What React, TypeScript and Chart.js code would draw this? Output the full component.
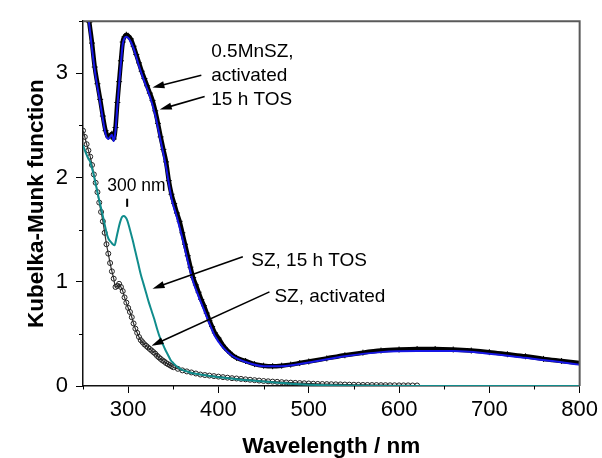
import { useEffect, useRef } from 'react';
import { Chart, registerables } from 'chart.js';

Chart.register(...registerables);

// ---------- data ----------
const mnszActWl = [250, 254, 257, 260, 263, 266, 269, 272, 275, 278, 280, 282, 284, 286, 288, 290, 292, 294, 296, 298, 300, 303, 306, 309, 312, 315, 318, 321, 324, 327, 330, 333, 336, 339, 342, 345, 348, 351, 354, 357, 360, 363, 366, 369, 372, 375, 378, 381, 384, 387, 390, 393, 396, 400, 405, 410, 415, 420, 430, 440, 450, 460, 470, 480, 490, 500, 520, 540, 560, 580, 600, 620, 640, 660, 680, 700, 720, 740, 760, 780, 800];
const mnszActKM = [4.05, 3.72, 3.49, 3.29, 3.06, 2.9, 2.75, 2.59, 2.45, 2.39, 2.4, 2.42, 2.37, 2.48, 2.72, 2.92, 3.12, 3.3, 3.35, 3.37, 3.36, 3.33, 3.26, 3.18, 3.1, 3.02, 2.95, 2.88, 2.81, 2.74, 2.64, 2.52, 2.39, 2.27, 2.15, 1.97, 1.84, 1.75, 1.66, 1.58, 1.47, 1.36, 1.25, 1.14, 1.04, 0.97, 0.9, 0.83, 0.77, 0.7, 0.63, 0.57, 0.51, 0.46, 0.39, 0.34, 0.3, 0.27, 0.24, 0.21, 0.195, 0.19, 0.195, 0.205, 0.22, 0.235, 0.265, 0.295, 0.32, 0.34, 0.35, 0.355, 0.355, 0.35, 0.34, 0.325, 0.305, 0.285, 0.26, 0.24, 0.22];

const mnszTosWl = [250, 257, 263, 269, 275, 278, 280, 282, 284, 286, 288, 290, 292, 294, 296, 298, 301, 306, 312, 318, 324, 330, 336, 342, 348, 354, 360, 366, 372, 378, 384, 390, 396, 405, 415, 430, 450, 470, 500, 540, 580, 620, 660, 700, 740, 770, 800];
const mnszTosKM = [4.0, 3.46, 3.03, 2.72, 2.42, 2.37, 2.39, 2.41, 2.35, 2.45, 2.68, 2.9, 3.1, 3.28, 3.34, 3.35, 3.33, 3.24, 3.07, 2.92, 2.78, 2.6, 2.35, 2.1, 1.8, 1.62, 1.42, 1.2, 1.0, 0.86, 0.73, 0.6, 0.48, 0.37, 0.29, 0.23, 0.19, 0.19, 0.225, 0.285, 0.325, 0.335, 0.335, 0.31, 0.27, 0.24, 0.205];

const szTosWl = [250, 253, 256, 258, 260, 262, 265, 268, 271, 274, 277, 279, 281, 283, 285, 287, 289, 291, 293, 295, 297, 299, 302, 305, 308, 311, 314, 317, 320, 323, 326, 329, 332, 335, 338, 341, 344, 347, 350, 355, 360, 365, 370, 380, 390, 400, 420, 440, 460, 480, 500, 520, 540, 560, 600, 700, 800];
const szTosKM = [2.31, 2.24, 2.18, 2.15, 2.09, 2.02, 1.9, 1.78, 1.67, 1.55, 1.44, 1.4, 1.38, 1.36, 1.35, 1.42, 1.5, 1.57, 1.62, 1.63, 1.62, 1.59, 1.5, 1.4, 1.29, 1.18, 1.07, 0.98, 0.89, 0.8, 0.72, 0.64, 0.55, 0.47, 0.41, 0.35, 0.3, 0.25, 0.22, 0.18, 0.155, 0.14, 0.125, 0.11, 0.095, 0.085, 0.065, 0.05, 0.035, 0.022, 0.013, 0.007, 0.004, 0.002, 0.001, 0, 0];

const szActWl = [250, 252, 254, 256, 258, 260, 262, 264, 266, 268, 270, 272, 274, 276, 278, 280, 282, 284, 286, 288, 290, 292, 294, 296, 298, 300, 302, 304, 306, 308, 310, 312, 314, 316, 318, 320, 322, 324, 326, 328, 330, 332, 334, 336, 338, 340, 342, 344, 346, 348, 350, 355, 360, 365, 370, 375, 380, 385, 390, 395, 400, 405, 410, 415, 420, 425, 430, 435, 440, 445, 450, 455, 460, 465, 470, 475, 480, 485, 490, 495, 500, 505, 510, 515, 520, 525, 530, 535, 540, 545, 550, 555, 560, 565, 570, 575, 580, 585, 590, 595, 600, 605, 610, 615, 620];
const szActKM = [2.45, 2.39, 2.32, 2.26, 2.2, 2.12, 2.03, 1.95, 1.86, 1.76, 1.67, 1.58, 1.47, 1.36, 1.27, 1.18, 1.1, 1.03, 0.95, 0.96, 0.98, 0.95, 0.91, 0.85, 0.8, 0.75, 0.71, 0.66, 0.6, 0.55, 0.51, 0.47, 0.44, 0.42, 0.4, 0.385, 0.37, 0.355, 0.34, 0.325, 0.31, 0.29, 0.275, 0.26, 0.245, 0.235, 0.22, 0.21, 0.2, 0.19, 0.18, 0.165, 0.15, 0.14, 0.13, 0.12, 0.11, 0.105, 0.1, 0.095, 0.09, 0.085, 0.08, 0.075, 0.072, 0.068, 0.064, 0.06, 0.056, 0.052, 0.048, 0.045, 0.042, 0.04, 0.037, 0.034, 0.032, 0.03, 0.028, 0.026, 0.024, 0.022, 0.02, 0.019, 0.018, 0.017, 0.016, 0.015, 0.014, 0.013, 0.012, 0.011, 0.01, 0.01, 0.009, 0.009, 0.008, 0.008, 0.007, 0.007, 0.006, 0.006, 0.006, 0.005, 0.005];

const xMajorTicks = [300, 400, 500, 600, 700, 800];
const xMinorTicks = [250, 350, 450, 550, 650, 750];
const yMajorTicks = [0, 1, 2, 3];
const yMinorTicks = [0.5, 1.5, 2.5, 3.5];

const xTitle = 'Wavelength / nm';
const yTitle = 'Kubelka-Munk function';

// annotation anchors in data units (nm, KM)
const mnszLabel = { lines: ['0.5MnSZ,', 'activated', '15 h TOS'], x: 392, y: 3.16 };
const mnszArrows = [
  { from: [381, 2.982], to: [326.9, 2.863] },
  { from: [384.7, 2.778], to: [335, 2.653] },
];
const peakLabel = { text: '300 nm', x: 276.8, y: 1.875, markX: 298.9, markY1: 1.797, markY2: 1.719 };
const szTosLabel = { text: 'SZ, 15 h TOS', x: 436.3, y: 1.154, from: [427, 1.239], to: [327, 0.934] };
const szActLabel = { text: 'SZ, activated', x: 462, y: 0.809, from: [456.5, 0.903], to: [325.9, 0.386] };

const FONT = '"Liberation Sans", Arial, Helvetica, sans-serif';

const toXY = (xs: number[], ys: number[]) => xs.map((x, i) => ({ x, y: ys[i] }));

function drawArrow(ctx: CanvasRenderingContext2D, x1: number, y1: number, x2: number, y2: number) {
  const ang = Math.atan2(y2 - y1, x2 - x1);
  const L = 12;
  const W = 3.6;
  const c = Math.cos(ang);
  const s = Math.sin(ang);
  ctx.beginPath();
  ctx.moveTo(x1, y1);
  ctx.lineTo(x2 - L * 0.7 * c, y2 - L * 0.7 * s);
  ctx.stroke();
  ctx.beginPath();
  ctx.moveTo(x2, y2);
  ctx.lineTo(x2 - L * c + W * s, y2 - L * s - W * c);
  ctx.lineTo(x2 - L * c - W * s, y2 - L * s + W * c);
  ctx.closePath();
  ctx.fill();
}

const decorPlugin = {
  id: 'decor',
  afterDraw(chart: any) {
    const { ctx, chartArea: a } = chart;
    const xs = chart.scales.x;
    const ys = chart.scales.y;
    const px = (v: number) => xs.getPixelForValue(v);
    const py = (v: number) => ys.getPixelForValue(v);
    ctx.save();
    // top / right frame
    ctx.strokeStyle = '#5a5a5a';
    ctx.lineWidth = 2;
    ctx.beginPath();
    ctx.moveTo(a.left, a.top);
    ctx.lineTo(a.right, a.top);
    ctx.lineTo(a.right, a.bottom);
    ctx.stroke();
    // minor ticks
    ctx.strokeStyle = '#000';
    ctx.lineWidth = 1;
    ctx.beginPath();
    xMinorTicks.forEach((v) => {
      const x = Math.round(px(v)) + 0.5;
      ctx.moveTo(x, a.bottom);
      ctx.lineTo(x, a.bottom + 3.5);
    });
    yMinorTicks.forEach((v) => {
      const y = Math.round(py(v)) + 0.5;
      ctx.moveTo(a.left, y);
      ctx.lineTo(a.left - 4, y);
    });
    ctx.stroke();

    // annotations
    ctx.fillStyle = '#000';
    ctx.strokeStyle = '#000';
    ctx.textBaseline = 'alphabetic';
    ctx.textAlign = 'left';
    ctx.font = `19px ${FONT}`;
    mnszLabel.lines.forEach((t, i) => {
      ctx.fillText(t, px(mnszLabel.x), py(mnszLabel.y) + i * 24);
    });
    ctx.fillText(szTosLabel.text, px(szTosLabel.x), py(szTosLabel.y));
    ctx.fillText(szActLabel.text, px(szActLabel.x), py(szActLabel.y));
    ctx.font = `17.5px ${FONT}`;
    ctx.fillText(peakLabel.text, px(peakLabel.x), py(peakLabel.y));
    ctx.lineWidth = 2;
    ctx.beginPath();
    ctx.moveTo(px(peakLabel.markX), py(peakLabel.markY1));
    ctx.lineTo(px(peakLabel.markX), py(peakLabel.markY2));
    ctx.stroke();

    ctx.lineWidth = 1.6;
    const arrows = [...mnszArrows, { from: szTosLabel.from, to: szTosLabel.to }, { from: szActLabel.from, to: szActLabel.to }];
    arrows.forEach((ar) => {
      drawArrow(ctx, px(ar.from[0]), py(ar.from[1]), px(ar.to[0]), py(ar.to[1]));
    });
    ctx.restore();
  },
};

export default function App() {
  const ref = useRef<HTMLCanvasElement>(null);
  useEffect(() => {
    if (!ref.current) return;
    Chart.defaults.font.family = FONT;
    Chart.defaults.color = '#000';
    const chart = new Chart(ref.current, {
      type: 'line',
      data: {
        datasets: [
          {
            label: '0.5MnSZ, 15 h TOS',
            data: toXY(mnszTosWl, mnszTosKM),
            borderColor: '#1717e6',
            borderWidth: 2,
            pointRadius: 0,
            cubicInterpolationMode: 'monotone',
          },
          {
            label: '0.5MnSZ, activated',
            data: toXY(mnszActWl, mnszActKM),
            borderColor: '#000',
            borderWidth: 4.5,
            pointStyle: 'cross',
            pointRadius: 3,
            pointBorderWidth: 1,
            pointBorderColor: '#000',
            cubicInterpolationMode: 'monotone',
          },
          {
            label: 'SZ, 15 h TOS',
            data: toXY(szTosWl, szTosKM),
            borderColor: '#108c8c',
            borderWidth: 2,
            pointRadius: 0,
            cubicInterpolationMode: 'monotone',
          },
          {
            label: 'SZ, activated',
            data: toXY(szActWl, szActKM),
            borderColor: '#333',
            borderWidth: 1.2,
            pointStyle: 'circle',
            pointRadius: 2.5,
            pointBorderWidth: 1,
            pointBorderColor: '#222',
            pointBackgroundColor: 'rgba(255,255,255,0)',
            cubicInterpolationMode: 'monotone',
          },
        ],
      },
      options: {
        animation: false,
        responsive: false,
        events: [],
        layout: { padding: { top: 14, right: 21, left: 0, bottom: 0 } },
        plugins: { legend: { display: false }, tooltip: { enabled: false } },
        scales: {
          x: {
            type: 'linear',
            min: 250,
            max: 800,
            afterBuildTicks: (s: any) => {
              s.ticks = xMajorTicks.map((v) => ({ value: v }));
            },
            afterFit: (s: any) => {
              s.height = 72;
            },
            border: { display: true, color: '#111', width: 1.5 },
            grid: { drawOnChartArea: false, drawTicks: true, tickLength: 7, color: '#000', lineWidth: 1 },
            ticks: { font: { size: 22 }, padding: 4, maxRotation: 0, color: '#000' },
            title: { display: true, text: xTitle, font: { size: 22.5, weight: 'bold', lineHeight: 1 }, padding: { top: 0, bottom: 0 }, color: '#000' },
          },
          y: {
            type: 'linear',
            min: 0,
            max: 3.5,
            afterBuildTicks: (s: any) => {
              s.ticks = yMajorTicks.map((v) => ({ value: v }));
            },
            afterFit: (s: any) => {
              s.width = 83;
            },
            border: { display: true, color: '#111', width: 1.5 },
            grid: { drawOnChartArea: false, drawTicks: true, tickLength: 7, color: '#000', lineWidth: 1 },
            ticks: { font: { size: 22 }, padding: 8, color: '#000' },
            title: { display: true, text: yTitle, font: { size: 22.5, weight: 'bold', lineHeight: 1 }, padding: { top: 26, bottom: 0 }, color: '#000' },
          },
        },
      },
      plugins: [decorPlugin],
    } as any);
    return () => chart.destroy();
  }, []);
  return (
    <div style={{ position: 'absolute', left: 0, top: 0, width: 602, height: 458, background: '#fff' }}>
      <canvas ref={ref} width={602} height={458} style={{ display: 'block', width: 602, height: 458 }} />
    </div>
  );
}
